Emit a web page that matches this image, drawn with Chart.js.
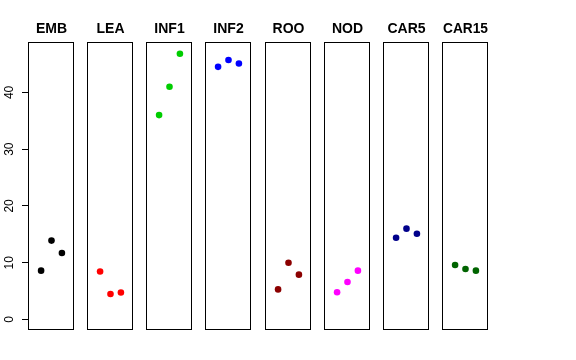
<!DOCTYPE html>
<html>
<head>
<meta charset="utf-8">
<script src="https://cdn.jsdelivr.net/npm/chart.js@4.4.1/dist/chart.umd.min.js"></script>
<style>
  html, body { margin: 0; padding: 0; background: #fff; }
  #wrap { position: relative; width: 576px; height: 360px; overflow: hidden; }
  #wrap canvas { position: absolute; top: 0; }
</style>
</head>
<body>
<div id="wrap"></div>
<script>
// ---- data ----
const categories = ['EMB', 'LEA', 'INF1', 'INF2', 'ROO', 'NOD', 'CAR5', 'CAR15'];
const replicate = [1, 2, 3];
const EMB   = [8.6, 13.9, 11.7];
const LEA   = [8.45, 4.5, 4.75];
const INF1  = [36.0, 41.0, 46.8];
const INF2  = [44.5, 45.7, 45.1];
const ROO   = [5.3, 10.0, 7.9];
const NOD   = [4.8, 6.6, 8.6];
const CAR5  = [14.4, 16.0, 15.1];
const CAR15 = [9.6, 8.9, 8.6];
const seriesValues = [EMB, LEA, INF1, INF2, ROO, NOD, CAR5, CAR15];
const yTicks = [0, 10, 20, 30, 40];
const yTickLabels = ['0', '10', '20', '30', '40'];
const colors = ['#000000', '#FF0000', '#00CD00', '#0000FF', '#8B0000', '#FF00FF', '#00008B', '#006400'];

// ---- layout ----
const PANEL_W = 45, PAD = 7, AXIS_W = 29, FIRST_LEFT = 29, STEP = 59.15;

const boxPlugin = {
  id: 'panelBox',
  afterDraw(chart) {
    const a = chart.chartArea, ctx = chart.ctx;
    ctx.save();
    ctx.strokeStyle = '#000';
    ctx.lineWidth = 1;
    ctx.strokeRect(Math.round(a.left) - 0.5, Math.round(a.top) - 0.5,
                   Math.round(a.right - a.left), Math.round(a.bottom - a.top));
    ctx.restore();
  }
};

const rotatedYLabels = {
  id: 'rotatedYLabels',
  afterDraw(chart) {
    const y = chart.scales.y;
    if (!y || !chart.options.scales.y.display) return;
    const ctx = chart.ctx;
    ctx.save();
    ctx.fillStyle = '#000';
    ctx.font = '12px "Liberation Sans", Arial, sans-serif';
    ctx.textAlign = 'center';
    ctx.textBaseline = 'alphabetic';
    yTicks.forEach((v, i) => {
      const py = y.getPixelForValue(v);
      ctx.save();
      ctx.translate(13, py);
      ctx.rotate(-Math.PI / 2);
      ctx.fillText(yTickLabels[i], 0, 0);
      ctx.restore();
    });
    ctx.restore();
  }
};

const wrap = document.getElementById('wrap');
categories.forEach((cat, i) => {
  const panelLeft = FIRST_LEFT + Math.round(i * STEP);
  const first = i === 0;
  const cv = document.createElement('canvas');
  const left = first ? 0 : panelLeft - PAD;
  const width = first ? AXIS_W + PANEL_W + PAD : PANEL_W + 2 * PAD;
  cv.width = width; cv.height = 360;
  cv.style.left = left + 'px';
  cv.style.width = width + 'px';
  cv.style.height = '360px';
  wrap.appendChild(cv);

  new Chart(cv, {
    type: 'scatter',
    data: {
      datasets: [{
        data: replicate.map((r, j) => ({ x: r, y: seriesValues[i][j] })),
        backgroundColor: colors[i],
        borderColor: colors[i],
        borderWidth: 0,
        pointRadius: 3.3,
        pointHoverRadius: 3.3
      }]
    },
    options: {
      responsive: false,
      animation: false,
      events: [],
      layout: { padding: { left: first ? 0 : PAD, right: PAD, top: 0, bottom: 30 } },
      plugins: {
        legend: { display: false },
        tooltip: { enabled: false },
        title: {
          display: true,
          text: cat,
          fullSize: false,
          color: '#000',
          font: { family: '"Liberation Sans", Arial, sans-serif', size: 14, weight: 'bold', lineHeight: '16px' },
          padding: { top: 21, bottom: 6 }
        }
      },
      scales: {
        x: { type: 'linear', min: -0.16, max: 4.16, display: false },
        y: {
          type: 'linear', min: -1.85, max: 48.7,
          display: first,
          afterBuildTicks(s) { s.ticks = yTicks.map(v => ({ value: v })); },
          afterFit(s) { s.width = first ? AXIS_W : 0; },
          border: { display: false },
          grid: { display: true, drawOnChartArea: false, drawTicks: true, tickLength: 7, color: '#000', lineWidth: 1 },
          ticks: { display: false }
        }
      }
    },
    plugins: [boxPlugin, rotatedYLabels]
  });
});
</script>
</body>
</html>
